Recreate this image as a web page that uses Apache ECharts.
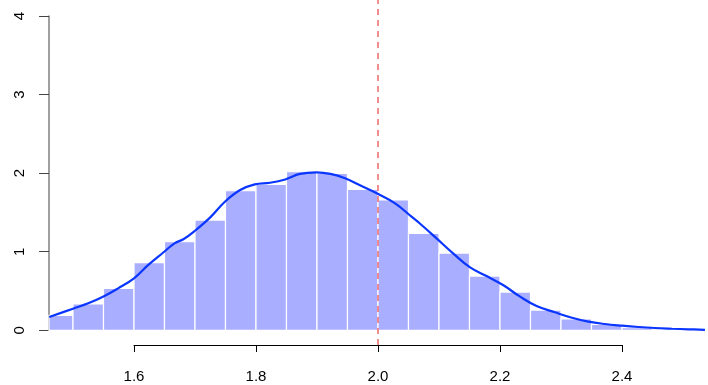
<!DOCTYPE html>
<html>
<head>
<meta charset="utf-8">
<script src="https://cdn.jsdelivr.net/npm/echarts@6/dist/echarts.min.js"></script>
<style>
html,body{margin:0;padding:0;background:#fff;}
#c{width:708px;height:385px;}
</style>
</head>
<body>
<div id="c"></div>
<script>
// Histogram bins (density scale)
const binEdges = [1.45, 1.50, 1.55, 1.60, 1.65, 1.70, 1.75, 1.80, 1.85, 1.90, 1.95, 2.00,
                  2.05, 2.10, 2.15, 2.20, 2.25, 2.30, 2.35, 2.40, 2.45, 2.50, 2.55];
const binHeights = [0.19, 0.335, 0.534, 0.86, 1.127, 1.403, 1.776, 1.857, 2.018, 1.997, 1.794,
                    1.658, 1.234, 0.983, 0.69, 0.487, 0.258, 0.144, 0.076, 0.033, 0.017, 0.005];
// Kernel density curve
const densityX = [1.461, 1.50, 1.525, 1.55, 1.574, 1.60, 1.623, 1.648, 1.667, 1.681, 1.70, 1.725,
                  1.749, 1.774, 1.798, 1.823, 1.848, 1.872, 1.899, 1.922, 1.946, 1.973, 1.998,
                  2.028, 2.055, 2.07, 2.096, 2.123, 2.151, 2.178, 2.205, 2.233, 2.26, 2.29,
                  2.318, 2.345, 2.372, 2.40, 2.427, 2.454, 2.482, 2.509, 2.536];
const densityY = [0.169, 0.275, 0.343, 0.43, 0.534, 0.66, 0.83, 0.99, 1.11, 1.158, 1.267, 1.437,
                  1.636, 1.785, 1.857, 1.878, 1.92, 1.99, 2.01, 1.99, 1.934, 1.836, 1.743,
                  1.616, 1.446, 1.35, 1.17, 0.98, 0.80, 0.69, 0.576, 0.428, 0.309, 0.229,
                  0.16, 0.11, 0.08, 0.059, 0.042, 0.029, 0.02, 0.013, 0.006];
// Reference line
const refLineX = 2.0;
// Axis ticks
const xTicks = { min: 1.6, max: 2.4, step: 0.2 };
const yTicks = { min: 0, max: 4, step: 1 };

const FONT = '"Liberation Sans", Arial, Helvetica, sans-serif';

const histData = binHeights.map((h, i) => [binEdges[i], binEdges[i + 1], h]);
const densData = densityX.map((x, i) => [x, densityY[i]]);

const chart = echarts.init(document.getElementById('c'), null, { renderer: 'canvas' });

chart.setOption({
  animation: false,
  backgroundColor: '#ffffff',
  grid: [
    { left: 49, right: 3, top: 0, bottom: 40 },        // plot region
    { left: 49, width: 1, top: 16, bottom: 54.7 },      // y axis display
    { left: 134, right: 86, bottom: 40, height: 1 }     // x axis display
  ],
  xAxis: [
    { gridIndex: 0, type: 'value', min: 1.46066, max: 2.5361, show: false },
    { gridIndex: 1, type: 'value', min: 0, max: 1, show: false },
    {
      gridIndex: 2, type: 'value', position: 'bottom',
      min: xTicks.min, max: xTicks.max, interval: xTicks.step,
      axisLine: { show: true, lineStyle: { color: '#000', width: 1 } },
      axisTick: { show: true, length: 7, lineStyle: { color: '#000' } },
      axisLabel: { show: true, margin: 24, fontSize: 15, color: '#000', fontFamily: FONT,
                   formatter: v => v.toFixed(1) },
      splitLine: { show: false }
    }
  ],
  yAxis: [
    { gridIndex: 0, type: 'value', min: -0.1871, max: 4.2036, show: false },
    {
      gridIndex: 1, type: 'value', position: 'left',
      min: yTicks.min, max: yTicks.max, interval: yTicks.step,
      axisLine: { show: true, lineStyle: { color: '#808080', width: 1.5 } },
      axisTick: { show: true, length: 10, lineStyle: { color: '#444' } },
      axisLabel: { show: true, rotate: 90, margin: 22, fontSize: 15, color: '#000', fontFamily: FONT },
      splitLine: { show: false }
    },
    { gridIndex: 2, type: 'value', min: 0, max: 1, show: false }
  ],
  series: [
    {
      type: 'custom',
      xAxisIndex: 0, yAxisIndex: 0,
      data: histData,
      encode: { x: [0, 1], y: 2 },
      renderItem: function (params, api) {
        const p0 = api.coord([api.value(0), 0]);
        const p1 = api.coord([api.value(1), api.value(2)]);
        const cs = params.coordSys;
        let x0 = Math.max(p0[0], cs.x);
        let x1 = Math.min(p1[0], cs.x + cs.width);
        if (x1 <= x0) return null;
        return {
          type: 'rect',
          shape: { x: x0, y: p1[1], width: x1 - x0, height: p0[1] - p1[1] },
          style: { fill: '#aaaeff', stroke: '#ffffff', lineWidth: 1.2 }
        };
      },
      z: 1
    },
    {
      type: 'line',
      xAxisIndex: 0, yAxisIndex: 0,
      data: densData,
      smooth: 0.4,
      showSymbol: false,
      symbol: 'none',
      lineStyle: { color: '#0a36ff', width: 2.2 },
      z: 3
    },
    {
      type: 'line',
      xAxisIndex: 0, yAxisIndex: 0,
      data: [],
      markLine: {
        silent: true,
        symbol: ['none', 'none'],
        label: { show: false },
        lineStyle: { color: '#ee6a6a', width: 1.5, type: [6, 5] },
        data: [{ xAxis: refLineX }]
      },
      z: 4
    }
  ]
});
</script>
</body>
</html>
